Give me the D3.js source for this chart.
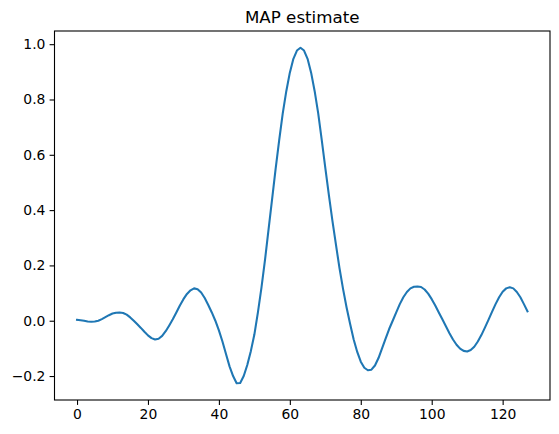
<!DOCTYPE html>
<html>
<head>
<meta charset="utf-8">
<script src="https://cdn.jsdelivr.net/npm/d3@7"></script>
<style>
  html, body { margin: 0; padding: 0; background: #fff; }
  svg { display: block; font-family: "DejaVu Sans", sans-serif; }
</style>
</head>
<body>
<svg id="chart" width="559" height="434"></svg>
<script>
const title = "MAP estimate";
const xTicks = [0, 20, 40, 60, 80, 100, 120];
const yTicks = [-0.2, 0.0, 0.2, 0.4, 0.6, 0.8, 1.0];
const values = [
  0.003, 0.002, 0.000, -0.003, -0.004, -0.003, 0.000, 0.006, 0.013, 0.020,
  0.026, 0.029, 0.030, 0.028, 0.022, 0.012, 0.000, -0.013, -0.026, -0.040,
  -0.053, -0.063, -0.068, -0.065, -0.055, -0.038, -0.017, 0.005, 0.030, 0.055,
  0.078, 0.097, 0.110, 0.117, 0.114, 0.102, 0.082, 0.057, 0.030, 0.000,
  -0.035, -0.075, -0.120, -0.165, -0.200, -0.226, -0.225, -0.200, -0.160, -0.110,
  -0.050, 0.030, 0.120, 0.220, 0.330, 0.440, 0.550, 0.653, 0.750, 0.830,
  0.897, 0.947, 0.977, 0.987, 0.977, 0.947, 0.897, 0.830, 0.750, 0.653,
  0.553, 0.455, 0.362, 0.275, 0.190, 0.115, 0.048, -0.012, -0.068, -0.113,
  -0.148, -0.170, -0.179, -0.177, -0.162, -0.135, -0.100, -0.065, -0.030, 0.000,
  0.030, 0.060, 0.085, 0.104, 0.117, 0.123, 0.124, 0.122, 0.113, 0.098,
  0.078, 0.055, 0.030, 0.005, -0.020, -0.045, -0.068, -0.087, -0.101, -0.109,
  -0.111, -0.106, -0.094, -0.075, -0.052, -0.025, 0.003, 0.032, 0.060, 0.085,
  0.105, 0.117, 0.121, 0.117, 0.104, 0.085, 0.060, 0.034
];
const indices = values.map((v, i) => i);

const svg = d3.select("#chart");
const mLeft = 54.5, mRight = 550, mTop = 31, mBottom = 400;

const xMin = d3.min(indices), xMax = d3.max(indices);
const xPad = (xMax - xMin) * 0.05;
const yMin = d3.min(values), yMax = d3.max(values);
const yPad = (yMax - yMin) * 0.05;

const x = d3.scaleLinear().domain([xMin - xPad, xMax + xPad]).range([mLeft, mRight]);
const y = d3.scaleLinear().domain([yMin - yPad, yMax + yPad]).range([mBottom, mTop]);

const fmtY = d => (d < 0 ? "\u2212" : "") + Math.abs(d).toFixed(1);

// line
svg.append("path")
  .datum(values)
  .attr("fill", "none")
  .attr("stroke", "#1f77b4")
  .attr("stroke-width", 2.08)
  .attr("stroke-linejoin", "round")
  .attr("stroke-linecap", "square")
  .attr("d", d3.line().x((d, i) => x(indices[i])).y(d => y(d)));

// axes
const xAxis = d3.axisBottom(x).tickValues(xTicks).tickSize(4.9).tickPadding(4.2).tickFormat(d3.format("d"));
const yAxis = d3.axisLeft(y).tickValues(yTicks).tickSize(4.9).tickPadding(4.2).tickFormat(fmtY);

const gx = svg.append("g").attr("transform", `translate(0,${mBottom})`).call(xAxis);
const gy = svg.append("g").attr("transform", `translate(${mLeft},0)`).call(yAxis);
[gx, gy].forEach(g => {
  g.select(".domain").remove();
  g.selectAll(".tick line").attr("stroke", "#000").attr("stroke-width", 1.1);
  g.selectAll(".tick text").attr("fill", "#000").style("font-size", "13.9px").style("font-family", "'DejaVu Sans', sans-serif");
});

// frame
svg.append("rect")
  .attr("x", mLeft).attr("y", mTop)
  .attr("width", mRight - mLeft).attr("height", mBottom - mTop)
  .attr("fill", "none").attr("stroke", "#000").attr("stroke-width", 1.1);

// title
svg.append("text")
  .attr("x", (mLeft + mRight) / 2)
  .attr("y", mTop - 8.3)
  .attr("text-anchor", "middle")
  .attr("fill", "#000")
  .style("font-size", "16.7px")
  .text(title);
</script>
</body>
</html>
